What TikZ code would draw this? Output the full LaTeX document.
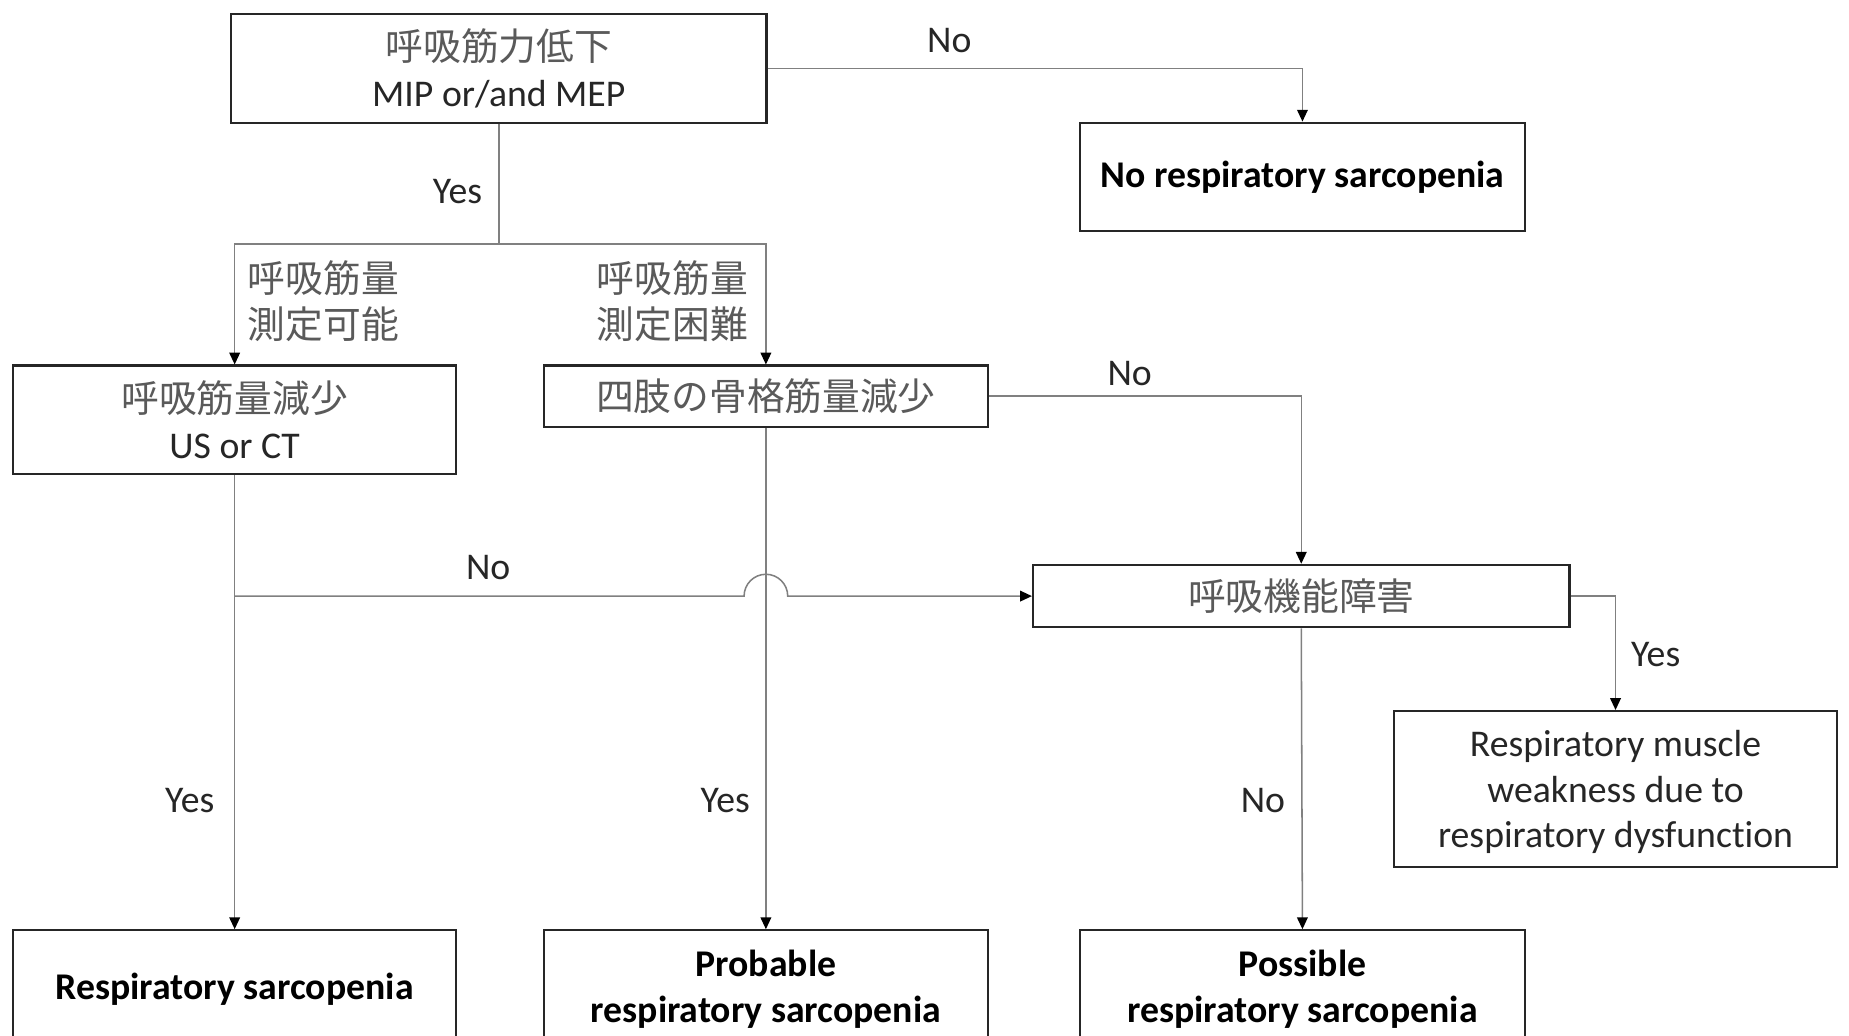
\documentclass[tikz,border=0pt]{standalone}
\usepackage{fontspec}
\setmainfont{Carlito}[Ligatures=NoCommon]
\newfontfamily\jp{Noto Sans CJK JP}
\usetikzlibrary{arrows.meta,calc}
\definecolor{txt}{HTML}{262626}
\definecolor{jptxt}{HTML}{5A5A5A}
\definecolor{ln}{HTML}{808080}
\begin{document}
\begin{tikzpicture}[x=1pt,y=-1pt,
  box/.style={draw=black!85, line width=1.8pt, inner sep=0pt, align=center, text=txt,
    font=\fontsize{32}{39}\selectfont},
  bbox/.style={box, font=\fontsize{32}{39}\selectfont\bfseries, text=black},
  conn/.style={draw=ln, line width=1.3pt},
  arr/.style={conn, -{Triangle[color=black,length=10pt,width=9pt]}},
  lbl/.style={text=txt, font=\fontsize{32}{39}\selectfont, inner sep=0pt},
  jlbl/.style={text=jptxt, font=\fontsize{32}{39}\selectfont\jp, inner sep=0pt, align=left}]
\useasboundingbox (0,0) rectangle (1568,878);
\clip (0,0) rectangle (1568,878);
\fill[white] (0,0) rectangle (1568,878);

% nodes
\node[box, minimum width=454pt, minimum height=92pt] (top) at (423,58)
  {{\jp\color{jptxt}呼吸筋力低下}\\MIP or/and MEP};
\node[bbox, minimum width=377pt, minimum height=92pt] (nores) at (1104.5,150)
  {\raisebox{-3pt}{No respiratory sarcopenia}};
\node[box, minimum width=376pt, minimum height=92pt] (A) at (199,356)
  {{\jp\color{jptxt}呼吸筋量減少}\\US or CT};
\node[box, minimum width=377pt, minimum height=52pt] (B) at (649.5,336)
  {{\jp\color{jptxt}四肢の骨格筋量減少}};
\node[box, minimum width=455pt, minimum height=53pt] (C) at (1103.5,505.5)
  {{\jp\color{jptxt}呼吸機能障害}};
\node[box, minimum width=376pt, minimum height=132pt, text depth=-6pt] (D) at (1370,669)
  {Respiratory muscle\\weakness due to\\respiratory dysfunction};
\node[bbox, minimum width=376pt, minimum height=100pt, anchor=north] (R1) at (199,788)
  {Respiratory sarcopenia};
\node[bbox, minimum width=377pt, minimum height=100pt, anchor=north] (R2) at (649.5,788)
  {Probable\\respiratory sarcopenia};
\node[bbox, minimum width=377pt, minimum height=100pt, anchor=north] (R3) at (1104.5,788)
  {Possible\\respiratory sarcopenia};

% connectors
\draw[arr] (top.east) -| (nores.north);
\coordinate (split) at (top.south |- 0,207);
\draw[conn] (top.south) -- (split);
\draw[arr] (split) -| (A.north);
\draw[arr] (split) -| (B.north);
\draw[arr] (B.east) -| (C.north);
\draw[arr] (A.south) -- (R1.north);
\coordinate (branch) at (A.south |- C.west);
\coordinate (jumpL) at ($(B.south |- C.west)+(-18.5,0)$);
\draw[arr] (branch) -- (jumpL) arc[start angle=180, end angle=0, radius=18.5pt] -- (C.west);
\draw[arr] (B.south) -- (R2.north);
\draw[arr] (C.south) -- (R3.north);
\draw[arr] (C.east) -| (D.north);

% labels
\node[lbl] (l1) at (805,34) {No};
\node[lbl] (l2) at (388,162) {Yes};
\node[lbl] (l3) at (958,317) {No};
\node[lbl] (l4) at (414,481) {No};
\node[lbl] (l5) at (161,679) {Yes};
\node[lbl] (l6) at (615,679) {Yes};
\node[lbl] (l7) at (1071,679) {No};
\node[lbl] (l8) at (1404,555) {Yes};
\node[jlbl, anchor=west] (j1) at (210,255.5) {呼吸筋量\\測定可能};
\node[jlbl, anchor=west] (j2) at (506,255.5) {呼吸筋量\\測定困難};
\end{tikzpicture}
\end{document}
